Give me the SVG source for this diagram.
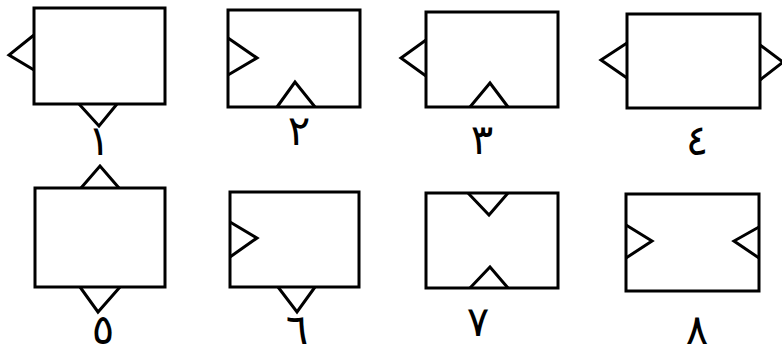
<svg xmlns="http://www.w3.org/2000/svg" width="782" height="358" viewBox="0 0 782 358">
<style>
.b{fill:none;stroke:#000;stroke-width:3;stroke-linejoin:miter}
.t{fill:none;stroke:#000;stroke-width:3;stroke-linejoin:miter}
.l{font-family:"DejaVu Sans",sans-serif;font-size:42px;fill:#000;text-anchor:middle}
</style>
<rect width="782" height="358" fill="#fff"/>
<g id="node1">
<rect class="b" x="34" y="8" width="131" height="96"/>
<polyline class="t" points="34,35 9,55 34,70"/>
<polyline class="t" points="79,104 99,126 117,104"/>
<text class="l" x="99" y="155">١</text>
</g>
<g id="node2">
<rect class="b" x="228" y="10" width="132" height="97"/>
<polyline class="t" points="228,38 257,58 228,75"/>
<polyline class="t" points="277,107 295,82 315,107"/>
<text class="l" x="299" y="145">٢</text>
</g>
<g id="node3">
<rect class="b" x="426" y="12" width="132" height="95"/>
<polyline class="t" points="426,40 401,58 426,76"/>
<polyline class="t" points="470,107 490,83 508,107"/>
<text class="l" x="482" y="154">٣</text>
</g>
<g id="node4">
<rect class="b" x="627" y="14" width="133" height="94"/>
<polyline class="t" points="627,43 601,60 627,78"/>
<polyline class="t" points="760,45 783,62 760,80"/>
<text class="l" x="697" y="155">٤</text>
</g>
<g id="node5">
<rect class="b" x="35" y="188" width="130" height="99"/>
<polyline class="t" points="81,188 100,166 119,188"/>
<polyline class="t" points="80,287 98,312 120,287"/>
<text class="l" x="103" y="344">٥</text>
</g>
<g id="node6">
<rect class="b" x="230" y="192" width="129" height="95"/>
<polyline class="t" points="230,222 257,238 230,257"/>
<polyline class="t" points="278,287 297,312 315,287"/>
<text class="l" x="297" y="344">٦</text>
</g>
<g id="node7">
<rect class="b" x="426" y="193" width="132" height="95"/>
<polyline class="t" points="468,193 489,215 508,193"/>
<polyline class="t" points="470,288 490,267 508,288"/>
<text class="l" x="478" y="336">٧</text>
</g>
<g id="node8">
<rect class="b" x="626" y="194" width="133" height="97"/>
<polyline class="t" points="626,225 652,241 626,258"/>
<polyline class="t" points="759,227 734,241 759,258"/>
<text class="l" x="697" y="344">٨</text>
</g>
<g id="connectors"></g>
</svg>
